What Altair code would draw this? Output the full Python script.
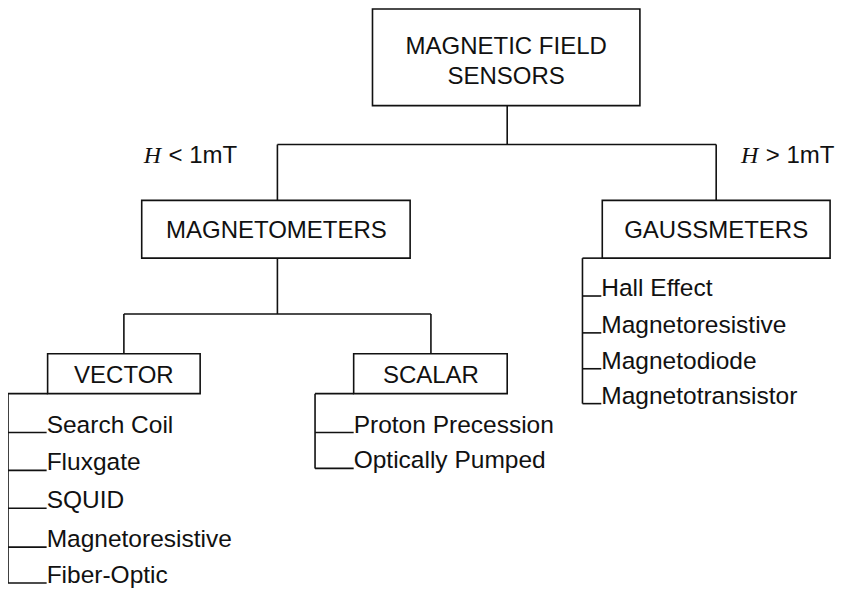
import altair as alt
import pandas as pd

# ---- content ----
root_lines = ["MAGNETIC FIELD", "SENSORS"]
branch_labels = ["MAGNETOMETERS", "GAUSSMETERS"]
branch_symbol = ["H", "H"]
branch_conditions = ["< 1mT", "> 1mT"]
magnetometer_kinds = ["VECTOR", "SCALAR"]
vector_sensors = ["Search Coil", "Fluxgate", "SQUID", "Magnetoresistive", "Fiber-Optic"]
scalar_sensors = ["Proton Precession", "Optically Pumped"]
gauss_sensors = ["Hall Effect", "Magnetoresistive", "Magnetodiode", "Magnetotransistor"]

# ---- layout (reference pixel coordinates) ----
root_box = [376, 646, 7, 104]
root_text_x = 511
root_text_y = [52, 82]
branch_boxes = [[143, 414, 199, 257], [608, 838, 199, 257]]
branch_text_x = [279, 723]
branch_text_y = 237
cond_sym_x = [145, 748]
cond_txt_x = [170, 773]
cond_y = 162
kind_boxes = [[48, 202, 353, 393], [357, 512, 353, 393]]
kind_text_x = [125, 435]
kind_text_y = 382

vector_list = dict(x=8, end=47, top=393, ys=[432, 470, 508, 547, 583])
scalar_list = dict(x=318, end=357, top=393, ys=[432, 468])
gauss_list = dict(x=588, end=607, top=257, ys=[295, 332, 368, 403])

INK = "#111111"
SANS = "Liberation Sans"
SERIF = "Liberation Serif"

# ---- build tables ----
boxes = pd.DataFrame(
    [root_box] + branch_boxes + kind_boxes, columns=["x", "x2", "y", "y2"]
)

rules = [
    (512, 104, 512, 143),
    (280, 143, 723, 143),
    (280, 143, 280, 199),
    (723, 143, 723, 199),
    (280, 257, 280, 313),
    (125, 313, 435, 313),
    (125, 313, 125, 353),
    (435, 313, 435, 353),
]
box_left = {"v": kind_boxes[0][0], "s": kind_boxes[1][0], "g": branch_boxes[1][0]}
for key, lst in (("v", vector_list), ("s", scalar_list), ("g", gauss_list)):
    rules.append((lst["x"], lst["top"], lst["x"], lst["ys"][-1]))
    rules.append((lst["x"], lst["top"], box_left[key], lst["top"]))
    for yy in lst["ys"]:
        rules.append((lst["x"], yy, lst["end"], yy))
rules = pd.DataFrame(rules, columns=["x", "y", "x2", "y2"])

box_texts = pd.DataFrame(
    {
        "x": [root_text_x, root_text_x] + branch_text_x + kind_text_x,
        "y": root_text_y + [branch_text_y] * 2 + [kind_text_y] * 2,
        "t": root_lines + branch_labels + magnetometer_kinds,
    }
)

list_rows = []
for lst, names in ((vector_list, vector_sensors), (scalar_list, scalar_sensors), (gauss_list, gauss_sensors)):
    for yy, nm in zip(lst["ys"], names):
        list_rows.append({"x": lst["end"], "y": yy, "t": nm})
list_texts = pd.DataFrame(list_rows)

sym_texts = pd.DataFrame({"x": cond_sym_x, "y": [cond_y] * 2, "t": branch_symbol})
cond_texts = pd.DataFrame({"x": cond_txt_x, "y": [cond_y] * 2, "t": branch_conditions})

xs = alt.Scale(domain=[8, 847], range=[0, 831], nice=False, zero=False)
ys = alt.Scale(domain=[6, 589], range=[0, 581], nice=False, zero=False)


def enc_xy():
    return dict(
        x=alt.X("x:Q", scale=xs, axis=None),
        y=alt.Y("y:Q", scale=ys, axis=None),
    )


rule_layer = alt.Chart(rules).mark_rule(color=INK, strokeWidth=1.6).encode(
    x2="x2:Q", y2="y2:Q", **enc_xy()
)
box_layer = alt.Chart(boxes).mark_rect(fill="white", stroke=INK, strokeWidth=1.6).encode(
    x2="x2:Q", y2="y2:Q", **enc_xy()
)
box_text_layer = alt.Chart(box_texts).mark_text(
    font=SANS, fontSize=24, color=INK, align="center", baseline="alphabetic"
).encode(text="t:N", **enc_xy())
list_text_layer = alt.Chart(list_texts).mark_text(
    font=SANS, fontSize=24.5, color=INK, align="left", baseline="alphabetic"
).encode(text="t:N", **enc_xy())
sym_layer = alt.Chart(sym_texts).mark_text(
    font=SERIF, fontStyle="italic", fontSize=24, color=INK, align="left", baseline="alphabetic"
).encode(text="t:N", **enc_xy())
cond_layer = alt.Chart(cond_texts).mark_text(
    font=SANS, fontSize=24, color=INK, align="left", baseline="alphabetic"
).encode(text="t:N", **enc_xy())

chart = (
    alt.layer(rule_layer, box_layer, box_text_layer, list_text_layer, sym_layer, cond_layer)
    .properties(width=831, height=581, padding=0, autosize=alt.AutoSizeParams(type="none"), background="white")
    .configure_view(stroke=None)
)

chart.save("out.html", embed_options={"renderer": "svg", "actions": False})
